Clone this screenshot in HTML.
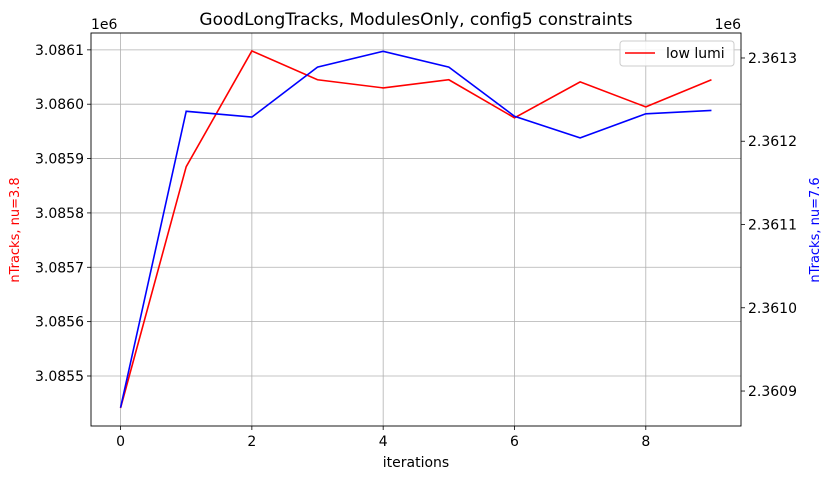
<!DOCTYPE html>
<html><head><meta charset="utf-8"><style>
body{margin:0;background:#fff;}
svg{font-family:"DejaVu Sans","Liberation Sans",sans-serif;}
</style></head><body>
<svg id="c" width="823" height="472" viewBox="0 0 823 472"></svg>
<script>
const iterations=[0,1,2,3,4,5,6,7,8,9];
const redValues=[3.085441,3.085885,3.086098,3.086045,3.086030,3.086045,3.085975,3.086041,3.085995,3.086045];
const blueValues=[2.360880,2.361236,2.361229,2.361289,2.361308,2.361289,2.361230,2.361204,2.361233,2.361237];
const xTicks=[0,2,4,6,8];
const leftTicks=[3.0855,3.0856,3.0857,3.0858,3.0859,3.0860,3.0861];
const rightTicks=[2.3609,2.3610,2.3611,2.3612,2.3613];

const L=91,R=741,T=33,B=426;
const xMin=-0.45,xMax=9.45;
const lMin=3.085408,lMax=3.086131;
const rMin=2.360858,rMax=2.361330;
const xs=v=>L+(v-xMin)/(xMax-xMin)*(R-L);
const yl=v=>B-(v-lMin)/(lMax-lMin)*(B-T);
const yr=v=>B-(v-rMin)/(rMax-rMin)*(B-T);
const svg=document.getElementById('c');
const NS='http://www.w3.org/2000/svg';
function mk(tag,attrs,parent){const e=document.createElementNS(NS,tag);for(const k in attrs)e.setAttribute(k,attrs[k]);(parent||svg).appendChild(e);return e;}
function txt(s,attrs){const e=mk('text',attrs);e.textContent=s;return e;}

xTicks.forEach(v=>{
  const g=mk('line',{x1:xs(v),x2:xs(v),y1:T,y2:B,stroke:'#b0b0b0','stroke-width':0.8});
  
  
  mk('line',{x1:xs(v),x2:xs(v),y1:B,y2:B+4,stroke:'#000','stroke-width':0.8});
  const t=txt(String(v),{x:xs(v),y:B+20,'text-anchor':'middle','font-size':14});
  
  
});
leftTicks.forEach(v=>{
  const g=mk('line',{x1:L,x2:R,y1:yl(v),y2:yl(v),stroke:'#b0b0b0','stroke-width':0.8});
  
  
  mk('line',{x1:L-4,x2:L,y1:yl(v),y2:yl(v),stroke:'#000','stroke-width':0.8});
  const t=txt(v.toFixed(4),{x:L-7,y:yl(v)+5,'text-anchor':'end','font-size':14});
  
  
});
rightTicks.forEach(v=>{
  mk('line',{x1:R,x2:R+4,y1:yr(v),y2:yr(v),stroke:'#000','stroke-width':0.8});
  const t=txt(v.toFixed(4),{x:R+7,y:yr(v)+5,'text-anchor':'start','font-size':14});
  
  
});

const red=mk('polyline',{points:iterations.map((x,i)=>xs(x)+','+yl(redValues[i])).join(' '),fill:'none',stroke:'#ff0000','stroke-width':1.6});


const blue=mk('polyline',{points:iterations.map((x,i)=>xs(x)+','+yr(blueValues[i])).join(' '),fill:'none',stroke:'#0000ff','stroke-width':1.6});



const fr=mk('rect',{x:L,y:T,width:R-L,height:B-T,fill:'none',stroke:'#000','stroke-width':0.9});



let t;
t=txt('GoodLongTracks, ModulesOnly, config5 constraints',{x:(L+R)/2,y:25,'text-anchor':'middle','font-size':17});


t=txt('1e6',{x:L,y:29,'text-anchor':'start','font-size':14});


t=txt('1e6',{x:R,y:29,'text-anchor':'end','font-size':14});


t=txt('iterations',{x:(L+R)/2,y:467,'text-anchor':'middle','font-size':14});


t=txt('nTracks, nu=3.8',{x:0,y:0,'text-anchor':'middle','font-size':13,fill:'#ff0000',transform:'translate(19,230) rotate(-90)'});


t=txt('nTracks, nu=7.6',{x:0,y:0,'text-anchor':'middle','font-size':13,fill:'#0000ff',transform:'translate(819,230) rotate(-90)'});



const lg=mk('g',{});


mk('rect',{x:620,y:41,width:114,height:25,rx:3,fill:'#fff','fill-opacity':0.85,stroke:'#cccccc','stroke-width':1},lg);
mk('line',{x1:625,x2:655,y1:53,y2:53,stroke:'#ff0000','stroke-width':1.6},lg);
const lt=mk('text',{x:666,y:58,'font-size':14},lg);
lt.textContent='low lumi';


</script>
</body></html>
